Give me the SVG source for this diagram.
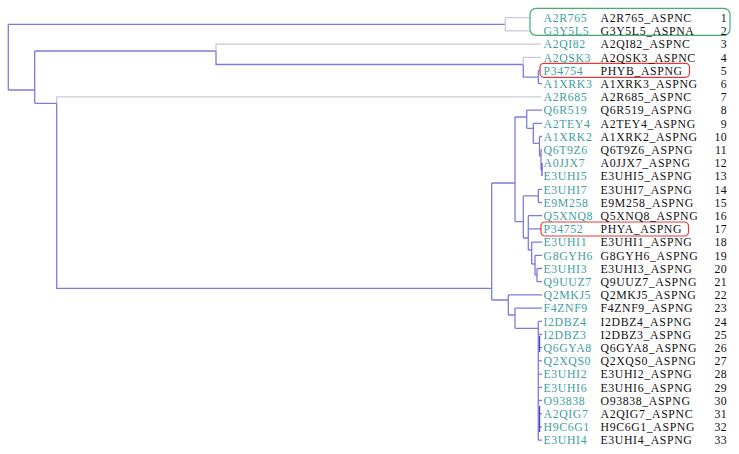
<svg xmlns="http://www.w3.org/2000/svg" width="739" height="454" viewBox="0 0 739 454">
<style>
.b{fill:none;stroke:#7c7ce0;stroke-width:1.3}
.g{fill:none;stroke:#c9c9d8;stroke-width:1.3}
.d{fill:none;stroke:#4848d8;stroke-width:1.2}
text{font-family:"Liberation Serif","Times New Roman",serif;font-size:11.8px;letter-spacing:0.62px}
.id{fill:#3f9ea0}
.nm{fill:#111}
.n{fill:#111;text-anchor:end;letter-spacing:0.3px}
.gb{fill:none;stroke:#46ad6a;stroke-width:1.2}
.rb{fill:none;stroke:#e03a3a;stroke-width:1.2}
</style>
<rect width="739" height="454" fill="#fff"/>
<g id="connectors">
<path class="b" d="M8.3,24.3V90M8.3,24.3H505.3M8.3,90H34.7M34.7,51V103.3M34.7,51H216M216,51V64.5H523.3M523.3,64.5V77.1H538.3M538.3,70.5V83.7M538.3,70.5H540M538.3,83.7H542"/>
<path class="g" d="M505.3,17.7V30.9M505.3,17.7H530M505.3,30.9H530M216,51V44.1H541M523.3,64.5V57.3H541M56.7,103.3V96.9H541"/>
<path class="b" d="M34.7,103.3H56.7M56.7,103.3V288.3H491.7M491.7,183V300"/>
<path class="b" d="M491.7,183H515M515,117V221.7M515,117H526.7M526.7,110.1V128.3M526.7,110.1H542M526.7,128.3H533.3M533.3,123.3V143.3M533.3,123.3H542M533.3,143.3H539.5M539.5,136.5V156M539.5,136.5H542M539.5,156H541M541,149.7V169.5M541,149.7H542"/>
<path class="d" d="M541,169.5H542M542,162.9V176.1"/>
<path class="b" d="M515,221.7H523.3M523.3,195.9V238M523.3,195.9H538.3M538.3,189.3V202.5M538.3,189.3H542M538.3,202.5H542M523.3,238H528.3M528.3,215.7V250M528.3,215.7H542M528.3,228.9H541M528.3,250H531.7M531.7,242.1V264M531.7,242.1H542M531.7,264H535M535,255.3V275.1M535,255.3H542M535,275.1H537M537,268.5V281.7M537,268.5H542M537,281.7H542"/>
<path class="b" d="M491.7,300H508.3M508.3,294.9V315M508.3,294.9H542M508.3,315H515M515,308.1V328.3M515,308.1H542M515,328.3H538.3M538.3,321.3V440.1M538.3,321.3H542M538.3,334.5H542M538.3,347.7H542M538.3,360.9H542M538.3,374.1H542M538.3,387.3H542M538.3,400.5H542M538.3,413.7H542M538.3,426.9H542M538.3,440.1H542"/>
<path class="d" d="M539.6,336V352M539.6,406V432"/>
</g>
<g id="highlight-green"><rect class="gb" x="530" y="8.3" width="200" height="27" rx="6"/></g>
<g id="highlight-red-5"><rect class="rb" x="540" y="63.3" width="149.5" height="14" rx="4"/></g>
<g id="highlight-red-17"><rect class="rb" x="541" y="222" width="147.5" height="14" rx="4"/></g>
<g id="leaf1"><text class="id" x="543.5" y="21.9">A2R765</text><text class="nm" x="600.5" y="21.9">A2R765_ASPNC</text><text class="n" x="727" y="21.9">1</text></g>
<g id="leaf2"><text class="id" x="543.5" y="35.1">G3Y5L5</text><text class="nm" x="600.5" y="35.1">G3Y5L5_ASPNA</text><text class="n" x="727" y="35.1">2</text></g>
<g id="leaf3"><text class="id" x="543.5" y="48.3">A2QI82</text><text class="nm" x="600.5" y="48.3">A2QI82_ASPNC</text><text class="n" x="727" y="48.3">3</text></g>
<g id="leaf4"><text class="id" x="543.5" y="61.5">A2QSK3</text><text class="nm" x="600.5" y="61.5">A2QSK3_ASPNC</text><text class="n" x="727" y="61.5">4</text></g>
<g id="leaf5"><text class="id" x="543.5" y="74.7">P34754</text><text class="nm" x="600.5" y="74.7">PHYB_ASPNG</text><text class="n" x="727" y="74.7">5</text></g>
<g id="leaf6"><text class="id" x="543.5" y="87.9">A1XRK3</text><text class="nm" x="600.5" y="87.9">A1XRK3_ASPNG</text><text class="n" x="727" y="87.9">6</text></g>
<g id="leaf7"><text class="id" x="543.5" y="101.1">A2R685</text><text class="nm" x="600.5" y="101.1">A2R685_ASPNC</text><text class="n" x="727" y="101.1">7</text></g>
<g id="leaf8"><text class="id" x="543.5" y="114.3">Q6R519</text><text class="nm" x="600.5" y="114.3">Q6R519_ASPNG</text><text class="n" x="727" y="114.3">8</text></g>
<g id="leaf9"><text class="id" x="543.5" y="127.5">A2TEY4</text><text class="nm" x="600.5" y="127.5">A2TEY4_ASPNG</text><text class="n" x="727" y="127.5">9</text></g>
<g id="leaf10"><text class="id" x="543.5" y="140.7">A1XRK2</text><text class="nm" x="600.5" y="140.7">A1XRK2_ASPNG</text><text class="n" x="727" y="140.7">10</text></g>
<g id="leaf11"><text class="id" x="543.5" y="153.9">Q6T9Z6</text><text class="nm" x="600.5" y="153.9">Q6T9Z6_ASPNG</text><text class="n" x="727" y="153.9">11</text></g>
<g id="leaf12"><text class="id" x="543.5" y="167.1">A0JJX7</text><text class="nm" x="600.5" y="167.1">A0JJX7_ASPNG</text><text class="n" x="727" y="167.1">12</text></g>
<g id="leaf13"><text class="id" x="543.5" y="180.3">E3UHI5</text><text class="nm" x="600.5" y="180.3">E3UHI5_ASPNG</text><text class="n" x="727" y="180.3">13</text></g>
<g id="leaf14"><text class="id" x="543.5" y="193.5">E3UHI7</text><text class="nm" x="600.5" y="193.5">E3UHI7_ASPNG</text><text class="n" x="727" y="193.5">14</text></g>
<g id="leaf15"><text class="id" x="543.5" y="206.7">E9M258</text><text class="nm" x="600.5" y="206.7">E9M258_ASPNG</text><text class="n" x="727" y="206.7">15</text></g>
<g id="leaf16"><text class="id" x="543.5" y="219.9">Q5XNQ8</text><text class="nm" x="600.5" y="219.9">Q5XNQ8_ASPNG</text><text class="n" x="727" y="219.9">16</text></g>
<g id="leaf17"><text class="id" x="543.5" y="233.1">P34752</text><text class="nm" x="600.5" y="233.1">PHYA_ASPNG</text><text class="n" x="727" y="233.1">17</text></g>
<g id="leaf18"><text class="id" x="543.5" y="246.3">E3UHI1</text><text class="nm" x="600.5" y="246.3">E3UHI1_ASPNG</text><text class="n" x="727" y="246.3">18</text></g>
<g id="leaf19"><text class="id" x="543.5" y="259.5">G8GYH6</text><text class="nm" x="600.5" y="259.5">G8GYH6_ASPNG</text><text class="n" x="727" y="259.5">19</text></g>
<g id="leaf20"><text class="id" x="543.5" y="272.7">E3UHI3</text><text class="nm" x="600.5" y="272.7">E3UHI3_ASPNG</text><text class="n" x="727" y="272.7">20</text></g>
<g id="leaf21"><text class="id" x="543.5" y="285.9">Q9UUZ7</text><text class="nm" x="600.5" y="285.9">Q9UUZ7_ASPNG</text><text class="n" x="727" y="285.9">21</text></g>
<g id="leaf22"><text class="id" x="543.5" y="299.1">Q2MKJ5</text><text class="nm" x="600.5" y="299.1">Q2MKJ5_ASPNG</text><text class="n" x="727" y="299.1">22</text></g>
<g id="leaf23"><text class="id" x="543.5" y="312.3">F4ZNF9</text><text class="nm" x="600.5" y="312.3">F4ZNF9_ASPNG</text><text class="n" x="727" y="312.3">23</text></g>
<g id="leaf24"><text class="id" x="543.5" y="325.5">I2DBZ4</text><text class="nm" x="600.5" y="325.5">I2DBZ4_ASPNG</text><text class="n" x="727" y="325.5">24</text></g>
<g id="leaf25"><text class="id" x="543.5" y="338.7">I2DBZ3</text><text class="nm" x="600.5" y="338.7">I2DBZ3_ASPNG</text><text class="n" x="727" y="338.7">25</text></g>
<g id="leaf26"><text class="id" x="543.5" y="351.9">Q6GYA8</text><text class="nm" x="600.5" y="351.9">Q6GYA8_ASPNG</text><text class="n" x="727" y="351.9">26</text></g>
<g id="leaf27"><text class="id" x="543.5" y="365.1">Q2XQS0</text><text class="nm" x="600.5" y="365.1">Q2XQS0_ASPNG</text><text class="n" x="727" y="365.1">27</text></g>
<g id="leaf28"><text class="id" x="543.5" y="378.3">E3UHI2</text><text class="nm" x="600.5" y="378.3">E3UHI2_ASPNG</text><text class="n" x="727" y="378.3">28</text></g>
<g id="leaf29"><text class="id" x="543.5" y="391.5">E3UHI6</text><text class="nm" x="600.5" y="391.5">E3UHI6_ASPNG</text><text class="n" x="727" y="391.5">29</text></g>
<g id="leaf30"><text class="id" x="543.5" y="404.7">O93838</text><text class="nm" x="600.5" y="404.7">O93838_ASPNG</text><text class="n" x="727" y="404.7">30</text></g>
<g id="leaf31"><text class="id" x="543.5" y="417.9">A2QIG7</text><text class="nm" x="600.5" y="417.9">A2QIG7_ASPNC</text><text class="n" x="727" y="417.9">31</text></g>
<g id="leaf32"><text class="id" x="543.5" y="431.1">H9C6G1</text><text class="nm" x="600.5" y="431.1">H9C6G1_ASPNG</text><text class="n" x="727" y="431.1">32</text></g>
<g id="leaf33"><text class="id" x="543.5" y="444.3">E3UHI4</text><text class="nm" x="600.5" y="444.3">E3UHI4_ASPNG</text><text class="n" x="727" y="444.3">33</text></g>
</svg>
